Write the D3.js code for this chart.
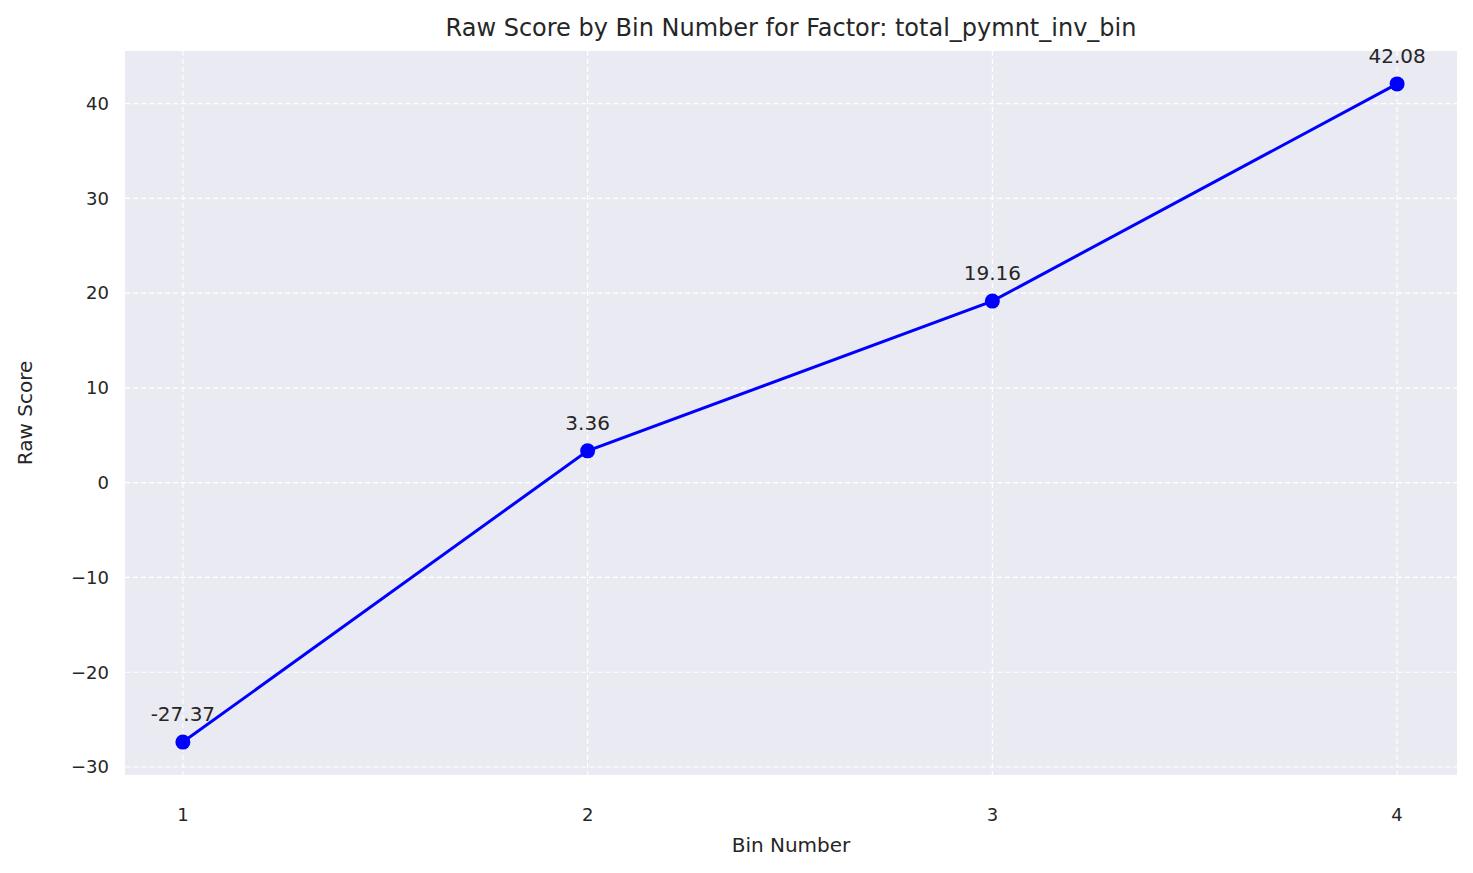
<!DOCTYPE html>
<html>
<head>
<meta charset="utf-8">
<script src="https://cdn.jsdelivr.net/npm/d3@7"></script>
<style>
  body { margin: 0; background: #fff; }
  text { font-family: "DejaVu Sans", sans-serif; fill: #262626; }
</style>
</head>
<body>
<svg id="chart" width="1473" height="873"></svg>
<script>
// data
const bins = [1, 2, 3, 4];
const scores = [-27.37, 3.36, 19.16, 42.08];
const yTicks = [-30, -20, -10, 0, 10, 20, 30, 40];

const svg = d3.select("#chart"),
    margin = {top: 51, right: 16, bottom: 98, left: 125},
    width = 1473 - margin.left - margin.right,
    height = 873 - margin.top - margin.bottom;

const g = svg.append("g").attr("transform", "translate(" + margin.left + "," + margin.top + ")");

let yMin = d3.min(scores), yMax = d3.max(scores), pad = (yMax - yMin) * 0.05;
let x = d3.scaleLinear().domain([0.857, 4.148]).range([0, width]);
let y = d3.scaleLinear().domain([yMin - pad, yMax + pad]).range([height, 0]);

g.append("rect").attr("width", width).attr("height", height).attr("fill", "#eaeaf2");

// grid
g.selectAll(".gx").data(bins).enter().append("line")
    .attr("x1", d => x(d)).attr("x2", d => x(d)).attr("y1", 0).attr("y2", height)
    .attr("stroke", "#fff").attr("stroke-width", 1.2).attr("stroke-dasharray", "5,3");
g.selectAll(".gy").data(yTicks).enter().append("line")
    .attr("x1", 0).attr("x2", width).attr("y1", d => y(d)).attr("y2", d => y(d))
    .attr("stroke", "#fff").attr("stroke-width", 1.2).attr("stroke-dasharray", "5,3");

// tick labels
g.selectAll(".xt").data(bins).enter().append("text")
    .attr("x", d => x(d)).attr("y", height + 46).attr("text-anchor", "middle")
    .attr("font-size", 18).text(d => d);
g.selectAll(".yt").data(yTicks).enter().append("text")
    .attr("x", -16).attr("y", d => y(d)).attr("dy", "0.35em").attr("text-anchor", "end")
    .attr("font-size", 18).text(d => d < 0 ? "\u2212" + Math.abs(d) : d);

// line + markers
let line = d3.line().x((d, i) => x(bins[i])).y(d => y(d));
g.append("path").datum(scores).attr("d", line)
    .attr("fill", "none").attr("stroke", "#0000ff").attr("stroke-width", 3);
g.selectAll(".pt").data(scores).enter().append("circle")
    .attr("cx", (d, i) => x(bins[i])).attr("cy", d => y(d)).attr("r", 7.5).attr("fill", "#0000ff");
g.selectAll(".lbl").data(scores).enter().append("text")
    .attr("x", (d, i) => x(bins[i])).attr("y", d => y(d) - 21).attr("text-anchor", "middle")
    .attr("font-size", 20).text(d => d.toFixed(2));

// titles
svg.append("text").attr("x", margin.left + width / 2).attr("y", 36).attr("text-anchor", "middle")
    .attr("font-size", 24).text("Raw Score by Bin Number for Factor: total_pymnt_inv_bin");
svg.append("text").attr("x", margin.left + width / 2).attr("y", 852).attr("text-anchor", "middle")
    .attr("font-size", 20).text("Bin Number");
svg.append("text").attr("transform", "translate(32," + (margin.top + height / 2) + ") rotate(-90)")
    .attr("text-anchor", "middle").attr("font-size", 20).text("Raw Score");
</script>
</body>
</html>
